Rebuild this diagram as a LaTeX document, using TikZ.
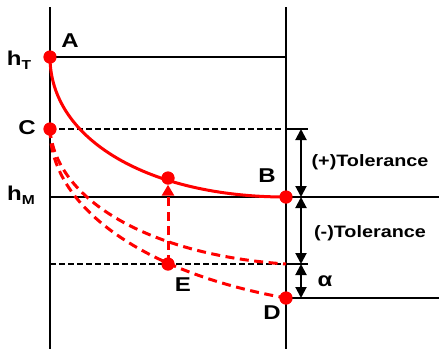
\documentclass[tikz,border=0pt]{standalone}
\usepackage{fontspec}
\setmainfont{Liberation Sans}[FakeStretch=1.2]
\usetikzlibrary{arrows.meta}
\begin{document}
\begin{tikzpicture}[x=1pt,y=-1pt,
  axis/.style={line width=2pt,black},
  guide/.style={line width=1.5pt,black,dash pattern=on 5.5pt off 3.5pt},
  redsolid/.style={line width=3pt,red},
  reddash/.style={line width=3pt,red,dash pattern=on 9pt off 5.5pt},
  dot/.style={circle,fill=red,inner sep=0pt,minimum size=13pt},
  dimarrow/.style={line width=2pt,black,{Triangle[width=11pt,length=11pt]}-{Triangle[width=11pt,length=11pt]}},
  lab/.style={font=\fontsize{20}{22}\selectfont\bfseries,inner sep=0pt},
  tol/.style={font=\fontsize{16.5}{18}\selectfont\bfseries,inner sep=0pt}]
\useasboundingbox (0,0) rectangle (439,349);
% axes
\coordinate (Ltop) at (50,7);
\coordinate (Lbot) at (50,349);
\coordinate (Rtop) at (286,7);
\coordinate (Rbot) at (286,349);
\draw[axis] (Ltop) -- (Lbot);
\draw[axis] (Rtop) -- (Rbot);
% level coordinates
\coordinate (hTR) at (286,57);
\coordinate (CR) at (283,129);
\coordinate (CR2) at (286,129);
\coordinate (CRe) at (308,129);
\coordinate (hML) at (50,197);
\coordinate (hMR) at (439,197);
\coordinate (EL) at (50,264);
\coordinate (ER) at (286,264);
\coordinate (ERe) at (308,264);
\coordinate (DR) at (439,298);
% points
\node[dot] (A) at (50,57) {};
\node[dot] (C) at (50,129) {};
\node[dot] (B) at (286,197) {};
\node[dot] (E) at (168,264) {};
\node[dot] (D) at (286,298) {};
\node[dot] (F) at (168,178) {};
% horizontal lines
\draw[axis] (A.center) -- (hTR);
\draw[guide] (C.center) -- (CR);
\draw[axis] (CR2) -- (CRe);
\draw[axis] (hML) -- (hMR);
\draw[guide] (EL) -- (ER);
\draw[axis] (ER) -- (ERe);
\draw[axis] (D.center) -- (DR);
% curves
\draw[redsolid] (A.center) .. controls (50,140) and (150,197) .. (B.center);
\draw[reddash] (C.center) .. controls (55,200) and (150,255) .. (ER);
\draw[reddash] (C.center) .. controls (50,205) and (140,272) .. (D.center);
\draw[reddash,-{Triangle[width=12pt,length=11pt]}] (E.center) -- (F.south);
% redraw dots on top
\foreach \p in {A,C,B,E,D,F} \fill[red] (\p) circle (6.5pt);
% dimension arrows
\coordinate (a1) at (301,129);
\coordinate (a2) at (301,197);
\coordinate (a3) at (301,264);
\coordinate (a4) at (301,298);
\draw[dimarrow] (a1) -- (a2);
\draw[dimarrow] (a2) -- (a3);
\draw[dimarrow] (a3) -- (a4);
% labels
\node[lab] (lhT) at (19,60) {h{\fontsize{13}{13}\selectfont\raisebox{-4pt}{T}}};
\node[lab] (lA) at (70,41) {A};
\node[lab] (lC) at (27,128) {C};
\node[lab] (lhM) at (21,195) {h{\fontsize{13}{13}\selectfont\raisebox{-4pt}{M}}};
\node[lab] (lB) at (267,176) {B};
\node[lab] (lE) at (183,285) {E};
\node[lab] (lD) at (272,313) {D};
\node[tol] (tp) at (370,162) {(+)Tolerance};
\node[tol] (tm) at (370,233) {(-)Tolerance};
\node[lab] (al) at (325,281) {α};
\end{tikzpicture}
\end{document}
